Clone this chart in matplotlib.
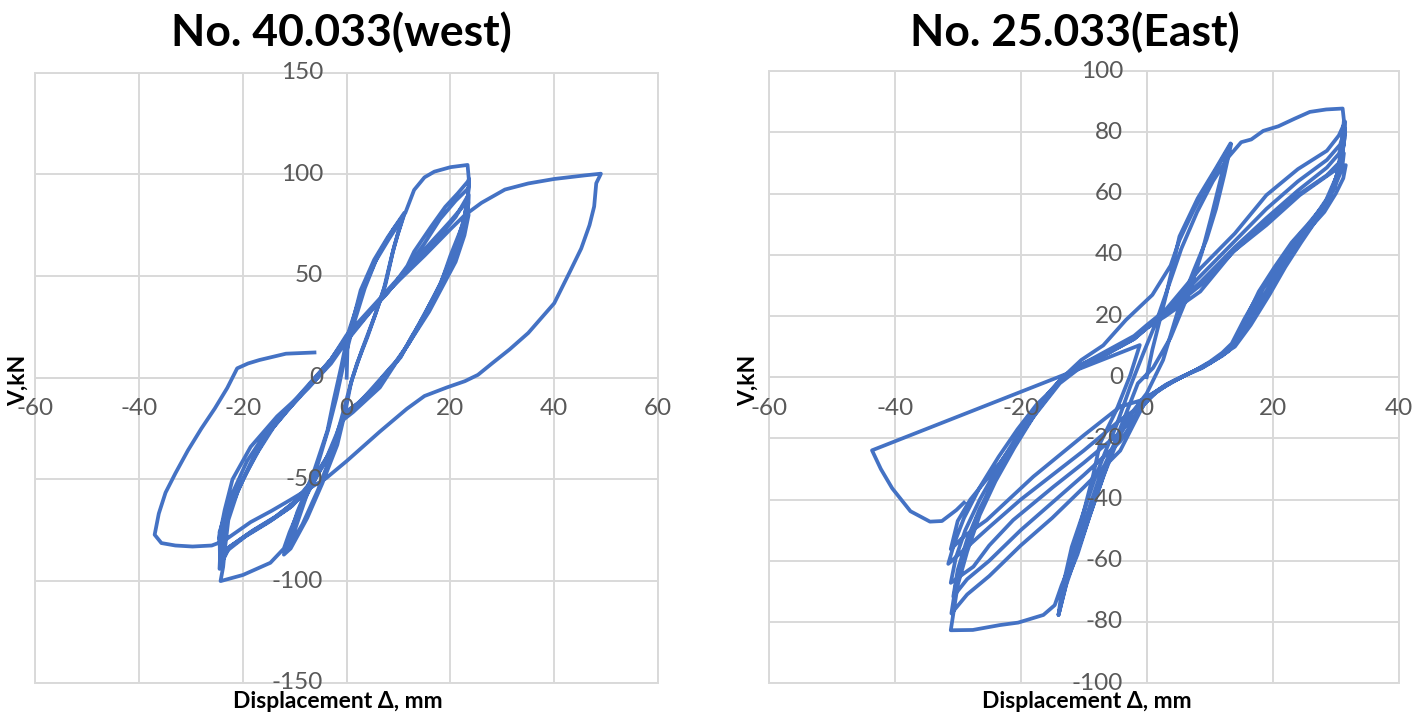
import numpy as np
import matplotlib.pyplot as plt
from matplotlib.patches import Rectangle

plt.rcParams['font.family'] = ['Lato', 'DejaVu Sans']

# ---- data: (displacement mm, shear kN) ----
west_loop = [
    # start + small cycles (+-12 mm)
    (0, 0), (0.2, 18), (2.7, 43), (5.3, 58), (7.9, 69), (11.1, 81),
    (10, 72), (9.1, 64), (7.5, 46), (6.2, 36), (4, 20), (2, 7), (0.8, -3), (-0.2, -16), (-1.8, -33),
    (-4.7, -52), (-7.6, -69), (-10.8, -84), (-12.1, -87),
    (-11, -78), (-9.5, -66), (-6.3, -46), (-3.7, -26), (-2.5, -11), (-1, 6), (0.3, 22), (2.9, 42),
    (5.5, 57), (8.1, 68), (11, 79.5),
    (9.8, 70), (8.8, 61), (7.2, 44), (5.5, 31), (3, 14), (1, -1), (-1, -20), (-3, -38), (-5.5, -55),
    (-8.5, -72), (-11.5, -85),
    # first +-24 mm cycle
    (-10, -75), (-8, -60), (-5.5, -42), (-3.5, -25), (-2, -10), (-0.3, 10), (1.2, 25), (3.5, 44), (6, 60),
    (9, 73), (11.3, 81), (13, 92.3), (15, 98.5), (16.9, 101.3), (20, 103.5), (23.3, 104.6), (23.6, 96),
    (23.3, 88), (22.5, 76), (21.4, 69), (20, 60), (18.1, 46), (16.5, 38), (14.9, 30), (12.5, 20), (10.4, 10),
    (7.5, 2), (5.3, -5), (2, -14), (-0.5, -18), (-1.8, -30), (-3.7, -39), (-6.3, -51), (-9, -64), (-11, -76),
    (-12.1, -84), (-14.7, -91), (-20, -97), (-24.3, -100), (-23.8, -93),
    # repeated +-24 mm cycles
    (-23.5, -85), (-22.8, -70), (-21, -56), (-18.5, -42), (-15.3, -28), (-11.4, -16), (-6.3, -2), (-3, 8),
    (0, 19), (4, 31), (8, 42), (11.7, 55), (13, 62), (16.2, 74), (19, 84), (21.4, 90.6), (23.3, 96.3), (23.6, 97.7),
    (23.4, 90), (22.8, 80), (21.6, 69), (19.5, 55), (18, 46), (15, 31), (12, 17), (10, 9), (6, -3), (2, -13),
    (-0.5, -18), (-2, -28), (-3.8, -39), (-6.5, -50), (-10, -61), (-14, -69), (-18.5, -76), (-23, -84), (-24.5, -94),
    (-24.3, -83), (-23, -68), (-20.5, -53), (-18, -40), (-15, -27), (-11, -14), (-6.5, -1), (-3, 9), (0, 20),
    (5, 34), (10, 48), (12.5, 57), (15, 66), (18, 78), (21, 87), (23.4, 93),
    (23.5, 86), (23, 78), (21.5, 66), (19, 50), (16, 36), (13, 22), (10.5, 11), (6.5, -2), (2.5, -12), (-0.3, -17),
    (-1.6, -27), (-3.5, -38), (-6, -49), (-9.5, -60), (-13.5, -68), (-18, -75), (-22.5, -83), (-24.3, -92),
    (-24, -80), (-22.5, -64), (-20, -50), (-17, -36), (-14, -24), (-10, -12), (-6, 0), (-3, 9), (0, 20),
    (5, 34), (10, 48), (15, 62), (18, 70), (21, 79), (23.5, 90),
    (23.3, 83), (22.5, 73), (20.5, 58), (18, 45), (15, 30), (12, 17), (9.5, 8), (5, -5), (1.5, -15), (-0.6, -19),
    (-2, -31), (-4, -40), (-6.5, -52), (-10.5, -63), (-14.5, -70), (-19, -77), (-23.5, -85), (-24.4, -90),
    (-24.5, -76), (-22.4, -59), (-19.2, -41), (-15.3, -26), (-11.4, -15), (-6.3, -1.5), (-3, 9), (0, 21),
    (5, 35), (10, 49), (15, 63), (20, 77), (23, 86),
    (23.5, 80), (22.7, 70), (21, 57), (18.5, 45), (15.9, 32.5), (13, 21), (10.7, 12), (6.4, -4.8), (1.2, -17),
    (-0.8, -21), (-2.5, -33), (-4.5, -43), (-7, -53), (-11, -64), (-15, -71), (-19.5, -78), (-24, -87),
    # final large excursion to +49 mm
    (-24.6, -79), (-23.5, -65), (-22, -50), (-18.5, -34), (-13.4, -19), (-7.4, -5), (-3, 7), (0, 18),
    (7.3, 41), (15, 60), (20, 73), (22.8, 80), (26, 86), (30.5, 92.5), (35, 95.5), (40, 97.7), (46, 99.5), (49, 100.3),
    (48.1, 95.6), (47.7, 84.2), (46.8, 75), (45.2, 63.5), (43, 52), (40, 36.6), (35, 22), (31.4, 13.9), (28, 7),
    (25.3, 1.4), (22.8, -1.7), (19.3, -4.8), (15, -9), (11.6, -15.3), (6.4, -26.5), (0, -41), (-4, -49.5),
    (-10.8, -60), (-14.5, -65.5), (-18.5, -71), (-23.7, -80.3), (-26, -82.5), (-29.7, -83), (-33, -82.5),
    (-35.7, -81.3), (-37, -77.2), (-36.6, -72), (-36.2, -66.8), (-34.9, -56.5), (-33, -47), (-30.6, -35.8),
    (-28, -25), (-25.4, -15.1), (-23, -5), (-21.1, 4.6), (-19, 7), (-16.8, 8.7), (-11.7, 11.8), (-6.2, 12.4),
]

east_loop = [
    # small cycles (+-14 mm) and first excursions
    (0, 0), (0.9, 9), (3.1, 27), (5.2, 46), (8.1, 58.5), (10.9, 68), (13.3, 76.4),
    (12, 67), (10.2, 52), (8.8, 41), (6.6, 27), (3.8, 13), (1, 3), (-1.4, -2), (-3.3, -12), (-5.2, -22),
    (-7.4, -32), (-9.5, -45), (-11.5, -58), (-13.5, -68), (-14.6, -74.5), (-16.4, -77.7), (-20.4, -80.2),
    (-23.3, -81), (-27.6, -82.6), (-31.1, -82.7),
    (-30.6, -76), (-30, -68), (-28.5, -57), (-26.5, -45), (-24, -34), (-21, -23), (-18, -13), (-15.5, -5),
    (-13.3, 0), (-10.4, 5.6), (-6.9, 10.4), (-3.3, 18.7), (0.9, 26.9), (3.8, 36.5), (5.2, 44.8), (7.4, 54.4),
    (9.5, 62.6), (11.5, 69.5), (13.4, 76.2),
    (12.3, 66), (11, 55), (9.5, 45), (7.5, 35), (5, 22), (2.6, 5.6), (0, -5.3), (-2.5, -12), (-4.8, -20),
    (-7, -33), (-9, -45), (-11, -58), (-12.6, -66), (-14, -77.7),
    (-13.5, -70), (-11.9, -55.5), (-10, -44), (-8.3, -33.5), (-6.5, -24), (-4.8, -15.7), (-2.6, -3), (-0.5, 8),
    (1.5, 18), (3.5, 30), (5.5, 42), (8, 54), (10.5, 64), (13, 72), (15, 76.8),
    (16.6, 77.7), (18.5, 80.5), (20.9, 82), (23.5, 84.5), (25.9, 86.7), (28.5, 87.5), (31.1, 87.8),
    # large cycles (+-31 mm)
    (31.3, 84), (31, 76), (30.2, 66), (28.8, 58), (26.8, 51), (24.5, 44), (22, 36), (19.5, 27), (16.5, 17),
    (14, 10), (11, 6), (8.5, 3), (5.5, 0), (2.5, -3.5), (0, -7),
    (-4.2, -24), (-10, -36), (-15, -46), (-20, -55), (-25, -65), (-28.5, -71), (-31, -77.2),
    (-30.3, -68), (-29, -58), (-27, -46), (-24.5, -35), (-21.5, -24), (-18.5, -14), (-15.5, -6), (-13.3, 0),
    (-10, 4.5), (-6, 9), (-2, 13.5), (0, 17), (3, 22), (8.5, 35.5), (14, 47), (19, 59.5), (24, 68),
    (28.6, 74), (30.5, 79), (31.5, 83.5),
    (31.4, 78), (30.8, 70), (29.8, 62), (28, 55), (25.5, 48), (23, 40), (20.5, 32), (18, 23), (15.2, 14),
    (13, 8.5), (10, 4.5), (7.5, 2), (4.5, -1), (2, -4), (0, -7.5),
    (-4.2, -21), (-10, -32), (-15, -41), (-20, -50), (-25, -60), (-28.5, -66), (-30.7, -71.7),
    (-30, -63), (-28.5, -53), (-26.5, -43), (-24, -33), (-21, -22), (-18, -12), (-15.5, -5), (-13.3, 0),
    (-10, 4), (-6, 8.5), (-2, 13), (0, 16.5), (3, 21.5), (8.5, 33), (14, 44.5), (19, 55), (24, 64),
    (28.6, 71), (30.7, 76), (31.5, 81.3),
    (31.3, 76), (30.5, 68), (29.2, 60), (27.2, 53), (24.6, 47), (22, 39), (19.5, 30), (17, 21), (14.4, 12),
    (12.5, 8), (9.5, 4), (7, 1.5), (4, -1.5), (1.5, -5), (0, -8),
    (-4.2, -18), (-10, -28), (-14.8, -35.8), (-21.2, -46.7), (-25, -55), (-27.5, -61.9), (-31.1, -67.2),
    (-30.3, -59), (-28.8, -50), (-26.5, -40), (-23.5, -29), (-20.5, -19), (-17.5, -10), (-13.5, -0.5),
    (-10, 4), (-6, 8), (-2, 12.5), (0, 16), (3, 21), (8.5, 31), (14, 42.5), (19, 52), (24, 61),
    (28.6, 68.5), (30.5, 73), (31.2, 77),
    (31, 72), (30, 65), (28.5, 58), (26.2, 51), (23.6, 45), (21, 37), (18.5, 29), (16, 19), (13.7, 10),
    (12, 7), (9, 3.5), (6.5, 1), (3.5, -2), (1, -5.5), (0, -8),
    (-4.2, -14), (-10, -24), (-15, -32), (-20, -40), (-25, -49), (-28.5, -55.5), (-31.5, -61),
    (-30.5, -54), (-29, -46), (-26.5, -36), (-23.5, -26), (-20.5, -17), (-17.5, -9), (-13.5, -1),
    (-10, 4.5), (-6, 8.5), (-2, 13), (0, 16.5), (3, 21), (8.5, 30), (14, 41.5), (19, 51), (24, 59.5),
    (28.6, 66), (30.5, 70), (31.3, 73.2),
    (31, 68), (29.8, 62), (28, 56), (25.6, 50), (23, 44), (20.3, 36), (17.8, 28), (15.5, 18), (13.3, 9.5),
    (11.5, 6.5), (8.8, 3), (6, 0.5), (3, -2.5), (0.5, -6), (0, -7),
    (-4.2, -9.6), (-10, -19), (-18, -32.5), (-25.4, -46.7), (-29, -52), (-31.1, -56.2),
    (-30, -47), (-28, -40), (-23.3, -28), (-18, -13), (-13.8, -2),
    (-10, 4), (-6, 8), (-2, 12.5), (0, 16), (3, 20), (8.5, 28), (13.7, 41), (19, 49.7), (24.3, 59.5),
    (29.6, 67.2), (31.6, 69.3),
    (31.2, 65), (30, 60), (28.2, 54), (25.8, 48.5), (23, 42.5), (20.3, 35), (18, 28), (15.5, 19), (13.5, 11),
    (12, 8), (10, 5), (7.5, 2), (4.5, -1), (2, -4), (0, -6.5),
    # last small cycle, then push to -44 mm
    (-2.5, -12), (-4.5, -20), (-6.8, -32), (-9, -45), (-11, -57), (-12.8, -68), (-14, -77.7),
    (-13.2, -70), (-11.8, -58), (-10, -44), (-8.5, -32), (-7.4, -21.6), (-4.8, -10.7), (-2.6, 0.7), (-1.1, 10.5),
    (-43.6, -23.9), (-42.2, -30), (-40.4, -36.3), (-37.5, -43.8), (-34.4, -47.2), (-32.5, -47), (-30.2, -43.4),
    (-29, -41),
]

west_xticks = [-60, -40, -20, 0, 20, 40, 60]
west_yticks = [-150, -100, -50, 0, 50, 100, 150]
east_xticks = [-60, -40, -20, 0, 20, 40]
east_yticks = [-100, -80, -60, -40, -20, 0, 20, 40, 60, 80, 100]

W, H = 1426, 717
LINE = '#4472C4'
GRID = '#d9d9d9'
AXIS = '#bfbfbf'
TXT = '#595959'


def panel(rect, pts, xticks, yticks):
    ax = fig.add_axes(rect)
    xs, ys = np.array(pts).T
    ax.plot(xs, ys, color=LINE, lw=2.7, solid_joinstyle='round', zorder=3)
    ax.set_xlim(xticks[0], xticks[-1])
    ax.set_ylim(yticks[0], yticks[-1])
    ax.set_xticks(xticks)
    ax.set_yticks(yticks)
    ax.grid(True, color=GRID, lw=1.4, zorder=0)
    ax.tick_params(length=0, labelbottom=False, labelleft=False)
    for s in ax.spines.values():
        s.set_visible(False)
    ax.add_patch(Rectangle((0, 0), 1, 1, transform=ax.transAxes, fill=False,
                           ec=GRID, lw=1.4, clip_on=False, zorder=1))
    ax.axhline(0, color=AXIS, lw=1.4, zorder=1)
    ax.axvline(0, color=AXIS, lw=1.4, zorder=1)
    for v in xticks:
        ax.annotate(str(v), xy=(v, 0), xytext=(0, -22.5), textcoords='offset points',
                    ha='center', va='center', fontsize=17.5, color=TXT, annotation_clip=False)
    for v in yticks:
        ax.annotate(str(v), xy=(0, v), xytext=(-17, 0), textcoords='offset points',
                    ha='right', va='center', fontsize=17.5, color=TXT, annotation_clip=False)
    return ax


fig = plt.figure(figsize=(W / 100, H / 100), dpi=100)

panel([35.3 / W, 1 - 682.8 / H, 622.7 / W, 610.2 / H], west_loop, west_xticks, west_yticks)
panel([768.7 / W, 1 - 683.2 / H, 630 / W, 612 / H], east_loop, east_xticks, east_yticks)

fig.text(341 / W, 1 - 32 / H, 'No. 40.033(west)', ha='center', va='center',
         fontsize=32, fontweight='bold')
fig.text(1075 / W, 1 - 32 / H, 'No. 25.033(East)', ha='center', va='center',
         fontsize=32, fontweight='bold')

for xc in (18, 748):
    fig.text(xc / W, 1 - 380 / H, 'V,kN', rotation=90, ha='center', va='center',
             fontsize=16.5, fontweight='bold')
for xc in (338, 1087):
    fig.text(xc / W, 1 - 701 / H, 'Displacement Δ, mm', ha='center', va='center',
             fontsize=16.5, fontweight='bold')

fig.savefig('out.png', dpi=100)
